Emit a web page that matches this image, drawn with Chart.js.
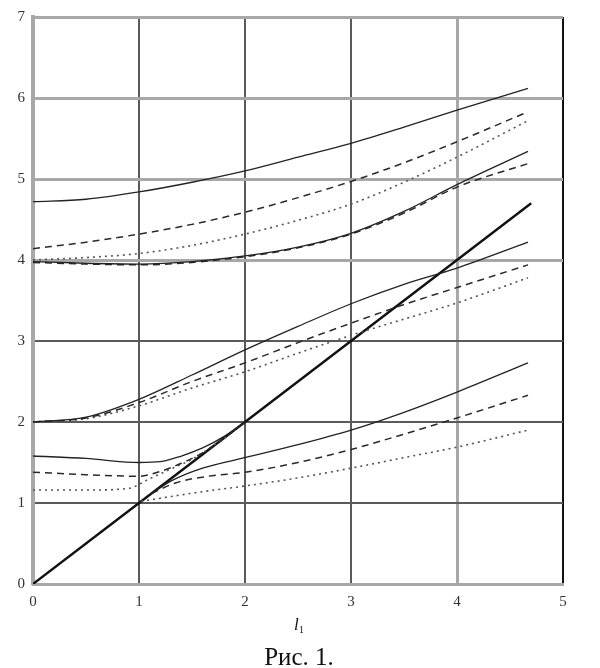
<!DOCTYPE html>
<html>
<head>
<meta charset="utf-8">
<script src="https://cdn.jsdelivr.net/npm/chart.js@4/dist/chart.umd.min.js"></script>
<style>
  html, body { margin: 0; padding: 0; background: #fff; }
  #wrap { width: 600px; height: 668px; position: relative; }
</style>
</head>
<body>
<div id="wrap"><canvas id="fig1"></canvas></div>
<script>
// ticks
const xTicks = [0, 1, 2, 3, 4, 5];
const yTicks = [0, 1, 2, 3, 4, 5, 6, 7];

// common abscissae for the long curves
const xs = [0, 0.5, 1, 1.5, 2, 2.5, 3, 3.5, 4, 4.67];

// upper pair of families
const solidTop     = [4.72, 4.75, 4.84, 4.96, 5.10, 5.27, 5.44, 5.64, 5.85, 6.12];
const dashedTop    = [4.14, 4.22, 4.32, 4.44, 4.59, 4.77, 4.97, 5.20, 5.46, 5.83];
const dottedTop    = [4.00, 4.03, 4.08, 4.18, 4.32, 4.49, 4.69, 4.96, 5.27, 5.72];
const solidSecond  = [3.98, 3.96, 3.95, 3.98, 4.05, 4.16, 4.33, 4.60, 4.93, 5.34];
const dashedSecond = [3.97, 3.95, 3.94, 3.97, 4.04, 4.15, 4.32, 4.58, 4.90, 5.19];

// middle family (starts at 2)
const solidMid  = [2.00, 2.06, 2.28, 2.58, 2.89, 3.18, 3.46, 3.70, 3.90, 4.22];
const dashedMid = [2.00, 2.05, 2.24, 2.50, 2.73, 2.98, 3.22, 3.45, 3.66, 3.94];
const dottedMid = [2.00, 2.04, 2.20, 2.42, 2.62, 2.85, 3.07, 3.27, 3.47, 3.78];

// lower family, left parts that bend up to the diagonal at (2,2)
const lowLeftX    = [0, 0.5, 1, 1.2, 1.4, 1.6, 1.8, 2];
const solidLeft   = [1.58, 1.55, 1.50, 1.51, 1.58, 1.68, 1.82, 2.00];
const dashedLeft  = [1.38, 1.35, 1.33, 1.39, 1.49, 1.62, 1.80, 2.00];
const dottedLeftX = [0, 0.5, 0.9, 1.1, 1.3, 1.5, 1.8, 2];
const dottedLeft  = [1.16, 1.16, 1.18, 1.30, 1.42, 1.54, 1.80, 2.00];

// lower family, right parts leaving the diagonal near (1,1)
const solidRightX  = [1.1, 1.3, 1.6, 2, 2.5, 3, 3.5, 4, 4.67];
const solidRight   = [1.10, 1.27, 1.43, 1.56, 1.72, 1.90, 2.12, 2.37, 2.73];
const dashedRightX = [1.12, 1.35, 1.65, 2, 2.5, 3, 3.5, 4, 4.67];
const dashedRight  = [1.12, 1.25, 1.33, 1.38, 1.50, 1.66, 1.85, 2.05, 2.33];
const dottedRightX = [1.02, 1.3, 1.6, 2, 2.5, 3, 3.5, 4, 4.67];
const dottedRight  = [1.02, 1.08, 1.14, 1.21, 1.31, 1.43, 1.56, 1.69, 1.90];

// light line
const diagX = [0, 1, 2, 3, 4, 4.7];
const diagY = [0, 1, 2, 3, 4, 4.7];

function pts(px, py){
    return px.map(function(x, i){ return { x: x, y: py[i] }; });
}

function line(data, kind){
    let set = {
        data: data,
        showLine: true,
        pointRadius: 0,
        fill: false,
        cubicInterpolationMode: 'monotone',
        borderColor: '#222',
        borderWidth: 1.3
    };
    if(kind === 'dashed'){
        set.borderDash = [7, 5];
        set.borderColor = '#2a2a2a';
        set.borderWidth = 1.5;
    }
    if(kind === 'dotted'){
        set.borderDash = [2, 4];
        set.borderColor = '#555';
        set.borderWidth = 1.6;
    }
    if(kind === 'bold'){
        set.borderColor = '#111';
        set.borderWidth = 2.4;
        set.cubicInterpolationMode = 'default';
        set.tension = 0;
    }
    return set;
}

const datasets = [
    line(pts(xs, solidTop), 'solid'),
    line(pts(xs, dashedTop), 'dashed'),
    line(pts(xs, dottedTop), 'dotted'),
    line(pts(xs, solidSecond), 'solid'),
    line(pts(xs, dashedSecond), 'dashed'),
    line(pts(xs, solidMid), 'solid'),
    line(pts(xs, dashedMid), 'dashed'),
    line(pts(xs, dottedMid), 'dotted'),
    line(pts(lowLeftX, solidLeft), 'solid'),
    line(pts(lowLeftX, dashedLeft), 'dashed'),
    line(pts(dottedLeftX, dottedLeft), 'dotted'),
    line(pts(solidRightX, solidRight), 'solid'),
    line(pts(dashedRightX, dashedRight), 'dashed'),
    line(pts(dottedRightX, dottedRight), 'dotted'),
    line(pts(diagX, diagY), 'bold')
];

const darkGrid = '#5a5a5a';
const lightGrid = '#a8a8a8';

// axis name l1 and the caption under the plot
const captionPlugin = {
    id: 'caption',
    afterDraw(chart){
        const c = chart.ctx;
        c.save();
        c.fillStyle = '#111';
        c.textBaseline = 'alphabetic';
        c.textAlign = 'left';
        c.font = 'italic 17px "Liberation Serif"';
        c.fillText('l', 294, 630);
        c.font = '10px "Liberation Serif"';
        c.fillText('1', 299, 633);
        c.textAlign = 'center';
        c.font = '25px "Liberation Serif"';
        c.fillText('Рис. 1.', 299, 665);
        c.restore();
    }
};

const ctx = document.getElementById('fig1').getContext('2d');
new Chart(ctx, {
    type: 'scatter',
    data: { datasets: datasets },
    options: {
        responsive: true,
        maintainAspectRatio: false,
        animation: false,
        layout: {
            padding: { top: 15, right: 37, left: 0, bottom: 0 }
        },
        plugins: {
            legend: { display: false },
            tooltip: { enabled: false }
        },
        scales: {
            x: {
                type: 'linear',
                min: 0,
                max: 5,
                afterBuildTicks(scale){
                    scale.ticks = xTicks.map(function(v){ return { value: v }; });
                },
                ticks: {
                    color: '#333',
                    padding: 9,
                    font: { family: 'Liberation Serif', size: 15 }
                },
                grid: {
                    drawTicks: false,
                    color(c){
                        let v = c.tick ? c.tick.value : 0;
                        if(v === 0) return lightGrid;
                        if(v === 5) return '#111';
                        if(v === 4) return lightGrid;
                        return darkGrid;
                    },
                    lineWidth(c){
                        let v = c.tick ? c.tick.value : 0;
                        if(v === 4) return 3;
                        return 2;
                    }
                },
                border: { color: lightGrid, width: 3 },
                afterFit(scale){
                    scale.height = 84;
                }
            },
            y: {
                type: 'linear',
                min: 0,
                max: 7,
                afterBuildTicks(scale){
                    scale.ticks = yTicks.map(function(v){ return { value: v }; });
                },
                ticks: {
                    color: '#333',
                    padding: 8,
                    font: { family: 'Liberation Serif', size: 15 }
                },
                grid: {
                    drawTicks: false,
                    color(c){
                        let v = c.tick ? c.tick.value : 0;
                        if(v >= 4 || v === 0) return lightGrid;
                        return darkGrid;
                    },
                    lineWidth(c){
                        let v = c.tick ? c.tick.value : 0;
                        if(v >= 4) return 3;
                        return 2;
                    }
                },
                border: { color: lightGrid, width: 4 },
                afterFit(scale){
                    scale.width = 33;
                }
            }
        }
    },
    plugins: [captionPlugin]
});
</script>
</body>
</html>
